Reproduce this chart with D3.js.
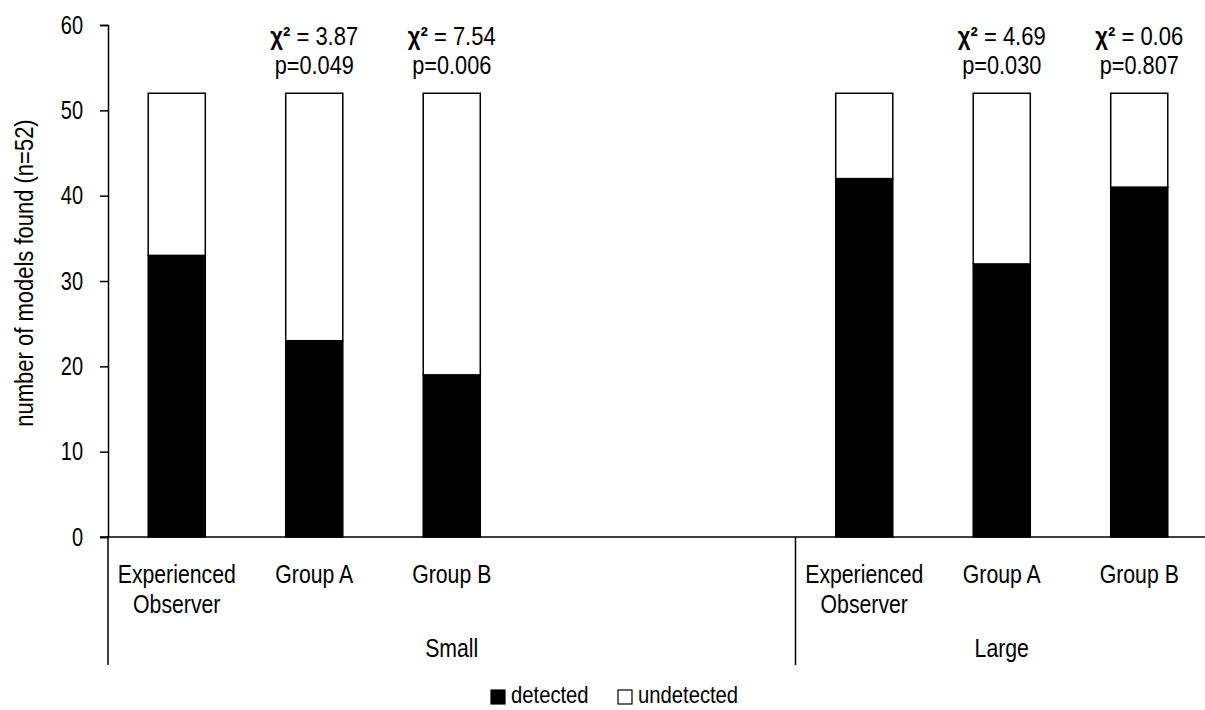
<!DOCTYPE html>
<html>
<head>
<meta charset="utf-8">
<script src="https://cdn.jsdelivr.net/npm/d3@7"></script>
<style>
  body { margin: 0; background: #fff; }
  svg text { font-family: "Liberation Sans", Arial, sans-serif; fill: #000; }
</style>
</head>
<body>
<svg id="chart" width="1205" height="710"></svg>
<script>
// data
const sizeGroups = ["Small", "Large"];
const groupSlots = [5, 3]; // category slots each group takes on the axis
const categories = ["Experienced Observer", "Group A", "Group B"];
const detectedSmall = [33, 23, 19];
const detectedLarge = [42, 32, 41];
const totalModels = 52;
const chiSmall = ["", "3.87", "7.54"];
const pSmall = ["", "0.049", "0.006"];
const chiLarge = ["", "4.69", "0.06"];
const pLarge = ["", "0.030", "0.807"];
const yTicks = [0, 10, 20, 30, 40, 50, 60];
const legendKeys = ["detected", "undetected"];

const svg = d3.select("#chart");
const fontSize = 25;

// narrow-looking text: regular font squeezed horizontally
function narrowText(parent, x, y, sx, size) {
  return parent.append("g")
    .attr("transform", `translate(${x},${y}) scale(${sx},1)`)
    .append("text")
    .attr("font-size", size || fontSize);
}

// build axis slots (empty slots are just spacing)
let slots = [];
sizeGroups.forEach((g, gi) => {
  const det = gi === 0 ? detectedSmall : detectedLarge;
  const chi = gi === 0 ? chiSmall : chiLarge;
  const pv = gi === 0 ? pSmall : pLarge;
  for (let i = 0; i < groupSlots[gi]; i++) {
    slots.push({
      key: g + "-" + i,
      group: g,
      label: categories[i] || "",
      detected: i < categories.length ? det[i] : null,
      chi: chi[i] || "",
      p: pv[i] || "",
    });
  }
});

const x = d3.scaleBand()
  .domain(slots.map(d => d.key))
  .range([108, 1208])
  .paddingInner(0.585)
  .paddingOuter(0.2925);

const y = d3.scaleLinear().domain([0, 60]).range([537, 25]);

// y axis
const yAxis = svg.append("g")
  .attr("transform", "translate(108,0)")
  .call(d3.axisLeft(y).tickValues(yTicks).tickSize(8).tickPadding(17));
yAxis.select(".domain").attr("stroke", "#000").attr("stroke-width", 1.5);
yAxis.selectAll(".tick line").attr("stroke", "#000").attr("stroke-width", 1.5);
yAxis.selectAll(".tick text")
  .attr("font-size", fontSize)
  .attr("font-family", null)
  .attr("x", -25 / 0.8)
  .attr("transform", "scale(0.8,1)");

narrowText(svg, 33, (y(0) + y(60)) / 2 - 8, 1, 25)
  .attr("transform", "rotate(-90) scale(0.88,1)")
  .attr("text-anchor", "middle")
  .text("number of models found (n=52)");

// stacked bars
const bars = slots.filter(d => d.detected !== null);
const stacked = bars.map(d => ({ d, parts: [[0, d.detected, "#000"], [d.detected, totalModels, "#fff"]] }));
const barG = svg.append("g");
stacked.forEach(s => {
  s.parts.forEach(p => {
    barG.append("rect")
      .attr("x", x(s.d.key))
      .attr("width", x.bandwidth())
      .attr("y", y(p[1]))
      .attr("height", y(p[0]) - y(p[1]))
      .attr("fill", p[2])
      .attr("stroke", "#000")
      .attr("stroke-width", 1.5);
  });
});

// x axis baseline
svg.append("line")
  .attr("x1", 100).attr("x2", 1208)
  .attr("y1", y(0)).attr("y2", y(0))
  .attr("stroke", "#000").attr("stroke-width", 1.5);

// group dividers (y axis extended + separators)
let edges = [x.range()[0]];
let acc = 0;
groupSlots.forEach(n => { acc += n; edges.push(x.range()[0] + x.step() * acc); });
edges.forEach(e => {
  svg.append("line")
    .attr("x1", e).attr("x2", e)
    .attr("y1", y(0)).attr("y2", 665)
    .attr("stroke", "#000").attr("stroke-width", 1.5);
});

// category labels
bars.forEach(d => {
  const words = d.label === "Experienced Observer" ? ["Experienced", "Observer"] : [d.label];
  const t = narrowText(svg, x(d.key) + x.bandwidth() / 2, 583, 0.85)
    .attr("text-anchor", "middle");
  words.forEach((w, i) => {
    t.append("tspan")
      .attr("x", 0)
      .attr("dy", i === 0 ? 0 : 30)
      .text(w);
  });
});

// group labels
sizeGroups.forEach((g, gi) => {
  narrowText(svg, (edges[gi] + edges[gi + 1]) / 2, 657, 0.85)
    .attr("text-anchor", "middle")
    .text(g);
});

// chi-square annotations
bars.filter(d => d.chi).forEach(d => {
  const cx = x(d.key) + x.bandwidth() / 2;
  const t = narrowText(svg, cx, 45, 0.88).attr("text-anchor", "middle");
  t.append("tspan").attr("font-weight", "bold").text("χ");
  t.append("tspan").attr("font-weight", "bold").text("²");
  t.append("tspan").text(" = " + d.chi);
  narrowText(svg, cx, 74, 0.87)
    .attr("text-anchor", "middle")
    .text("p=" + d.p);
});

// legend
const legendX = [490, 617];
legendKeys.forEach((k, i) => {
  svg.append("rect")
    .attr("x", legendX[i] + 1).attr("y", 690)
    .attr("width", 14).attr("height", 14)
    .attr("fill", i === 0 ? "#000" : "#fff")
    .attr("stroke", "#000").attr("stroke-width", 1.2);
  narrowText(svg, legendX[i] + 21, 703, 0.88, 23)
    .text(k);
});
</script>
</body>
</html>
